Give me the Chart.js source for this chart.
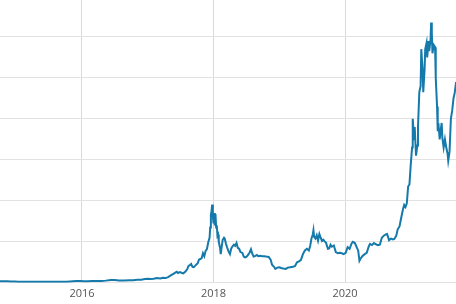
<!DOCTYPE html>
<html>
<head>
<meta charset="utf-8">
<script src="https://cdn.jsdelivr.net/npm/chart.js@4/dist/chart.umd.min.js"></script>
<style>
  html, body { margin: 0; padding: 0; background: #fff; }
  #caixa { width: 456px; height: 304px; position: relative; }
</style>
</head>
<body>
<div id="caixa"><canvas id="grafico"></canvas></div>
<script>
// dates as decimal years, price in USD
var anos = [
  2014.75, 2014.80, 2014.86, 2014.92, 2014.98, 2015.03, 2015.08, 2015.14, 2015.20, 2015.27,
  2015.33, 2015.40, 2015.46, 2015.52, 2015.58, 2015.64, 2015.70, 2015.76, 2015.82, 2015.86,
  2015.92, 2015.97, 2016.03, 2016.09, 2016.15, 2016.22, 2016.30, 2016.36, 2016.44, 2016.50,
  2016.56, 2016.64, 2016.72, 2016.78, 2016.84, 2016.90, 2016.96, 2017.00, 2017.04, 2017.09,
  2017.14, 2017.19, 2017.23, 2017.27, 2017.31, 2017.35, 2017.39, 2017.42, 2017.44, 2017.46,
  2017.49, 2017.52, 2017.54, 2017.57, 2017.60, 2017.62, 2017.64, 2017.66, 2017.68, 2017.70,
  2017.73, 2017.76, 2017.78, 2017.80, 2017.82, 2017.84, 2017.86, 2017.88, 2017.90, 2017.92,
  2017.94, 2017.95, 2017.96, 2017.97, 2017.98, 2017.99, 2018.00, 2018.01, 2018.02, 2018.03,
  2018.04, 2018.05, 2018.06, 2018.07, 2018.08, 2018.10, 2018.11, 2018.12, 2018.14, 2018.16,
  2018.17, 2018.19, 2018.21, 2018.23, 2018.25, 2018.27, 2018.29, 2018.31, 2018.33, 2018.35,
  2018.37, 2018.39, 2018.41, 2018.44, 2018.46, 2018.48, 2018.50, 2018.52, 2018.55, 2018.57,
  2018.59, 2018.61, 2018.63, 2018.66, 2018.68, 2018.71, 2018.74, 2018.77, 2018.80, 2018.84,
  2018.87, 2018.89, 2018.92, 2018.94, 2018.97, 2019.00, 2019.03, 2019.06, 2019.10, 2019.13,
  2019.17, 2019.21, 2019.24, 2019.27, 2019.30, 2019.33, 2019.36, 2019.39, 2019.42, 2019.45,
  2019.47, 2019.49, 2019.51, 2019.52, 2019.53, 2019.55, 2019.57, 2019.59, 2019.61, 2019.63,
  2019.65, 2019.67, 2019.69, 2019.71, 2019.74, 2019.76, 2019.78, 2019.80, 2019.83, 2019.86,
  2019.89, 2019.92, 2019.95, 2019.98, 2020.01, 2020.04, 2020.07, 2020.10, 2020.12, 2020.15,
  2020.18, 2020.20, 2020.22, 2020.24, 2020.27, 2020.30, 2020.33, 2020.36, 2020.38, 2020.41,
  2020.44, 2020.47, 2020.50, 2020.53, 2020.56, 2020.59, 2020.62, 2020.64, 2020.67, 2020.70,
  2020.73, 2020.75, 2020.78, 2020.80, 2020.83, 2020.85, 2020.88, 2020.90, 2020.92, 2020.94,
  2020.96, 2020.98, 2021.00, 2021.02, 2021.03, 2021.05, 2021.06, 2021.08, 2021.10, 2021.11,
  2021.13, 2021.15, 2021.16, 2021.18, 2021.19, 2021.21, 2021.22, 2021.24, 2021.25, 2021.27,
  2021.28, 2021.30, 2021.31, 2021.32, 2021.33, 2021.35, 2021.37, 2021.38, 2021.40, 2021.41,
  2021.42, 2021.44, 2021.45, 2021.47, 2021.48, 2021.50, 2021.52, 2021.54, 2021.56, 2021.57,
  2021.59, 2021.61, 2021.63, 2021.65, 2021.67, 2021.69
];

var precos = [
  380, 350, 360, 330, 310, 230, 250, 240, 270, 240,
  235, 230, 250, 280, 270, 230, 240, 250, 320, 380,
  420, 440, 400, 380, 420, 415, 450, 530, 680, 660,
  590, 580, 610, 640, 730, 750, 900, 1000, 900, 1000,
  1150, 1050, 1200, 1150, 1400, 1800, 2200, 2500, 2700, 2400,
  2600, 2400, 2300, 2700, 3300, 4100, 4300, 4600, 3900, 3800,
  4300, 4800, 5700, 5800, 6000, 7200, 6500, 7800, 8200, 9900,
  11000, 13500, 16500, 17500, 19100, 16200, 14500, 17000, 14000, 16800,
  13500, 14000, 11500, 11800, 10000, 8500, 7000, 8300, 10500, 11000,
  10800, 9500, 8500, 7600, 7000, 8400, 8900, 9300, 9000, 9700,
  8500, 8300, 7500, 7300, 6400, 6200, 6300, 6700, 7400, 8200,
  7100, 6400, 6500, 6800, 6500, 6600, 6500, 6500, 6400, 6300,
  5600, 4400, 3900, 3400, 3700, 3800, 3600, 3500, 3400, 3700,
  3800, 3900, 4100, 5000, 5200, 5600, 7000, 7900, 8300, 7900,
  9000, 10800, 11800, 12800, 11200, 10800, 11600, 10300, 11900, 11000,
  10200, 10500, 10100, 9800, 8300, 8400, 9300, 8800, 9100, 7500,
  7200, 7300, 7200, 7000, 7300, 8700, 8300, 9600, 10000, 9700,
  8600, 7900, 5400, 6000, 6600, 7000, 7300, 8800, 9500, 9200,
  9700, 9400, 9200, 9300, 11000, 11500, 11800, 11900, 10400, 10800,
  10600, 10700, 11500, 13000, 13800, 15500, 17800, 19000, 18500, 19400,
  23500, 24000, 28900, 33000, 40000, 35000, 38000, 31000, 33500, 38000,
  46500, 48000, 57000, 52000, 46500, 52000, 57000, 58500, 55000, 59000,
  56500, 59000, 63500, 61000, 56000, 58000, 57500, 50000, 43000, 37000,
  39000, 35000, 36500, 39000, 35500, 33000, 35000, 33000, 31500, 29800,
  32000, 40000, 42000, 45000, 46500, 49000
];

// axis ticks
var anosMarcados = [2016, 2018, 2020];
var linhasPreco = [0, 10000, 20000, 30000, 40000, 50000, 60000];

var pontos = [];
for (var i = 0; i < anos.length; i++) {
  pontos.push({ x: anos[i], y: precos[i] });
}

var corGrade = "#e2e2e2";

var ctx = document.getElementById("grafico").getContext("2d");

var grafico = new Chart(ctx, {
  type: "line",
  data: {
    datasets: [
      {
        data: pontos,
        borderColor: "#1479ab",
        borderWidth: 2,
        pointRadius: 0,
        fill: false,
        tension: 0
      }
    ]
  },
  options: {
    responsive: true,
    maintainAspectRatio: false,
    animation: false,
    layout: { padding: { left: 0, right: 0, top: 0, bottom: 0 } },
    plugins: {
      legend: { display: false },
      tooltip: { enabled: false }
    },
    scales: {
      x: {
        type: "linear",
        min: 2014.753,
        max: 2021.688,
        afterBuildTicks: function(eixo) {
          eixo.ticks = anosMarcados.map(function(a) { return { value: a }; });
        },
        ticks: {
          color: "#555",
          padding: 4,
          font: { family: "'Open Sans', sans-serif", size: 11 },
          maxRotation: 0,
          callback: function(v) { return String(v); }
        },
        grid: { color: "#d9d9d9", drawTicks: false },
        border: { color: corGrade }
      },
      y: {
        min: 0,
        max: 69000,
        afterBuildTicks: function(eixo) {
          eixo.ticks = linhasPreco.map(function(p) { return { value: p }; });
        },
        ticks: { display: false },
        grid: { color: corGrade, drawTicks: false },
        border: { display: false }
      }
    }
  }
});
</script>
</body>
</html>
